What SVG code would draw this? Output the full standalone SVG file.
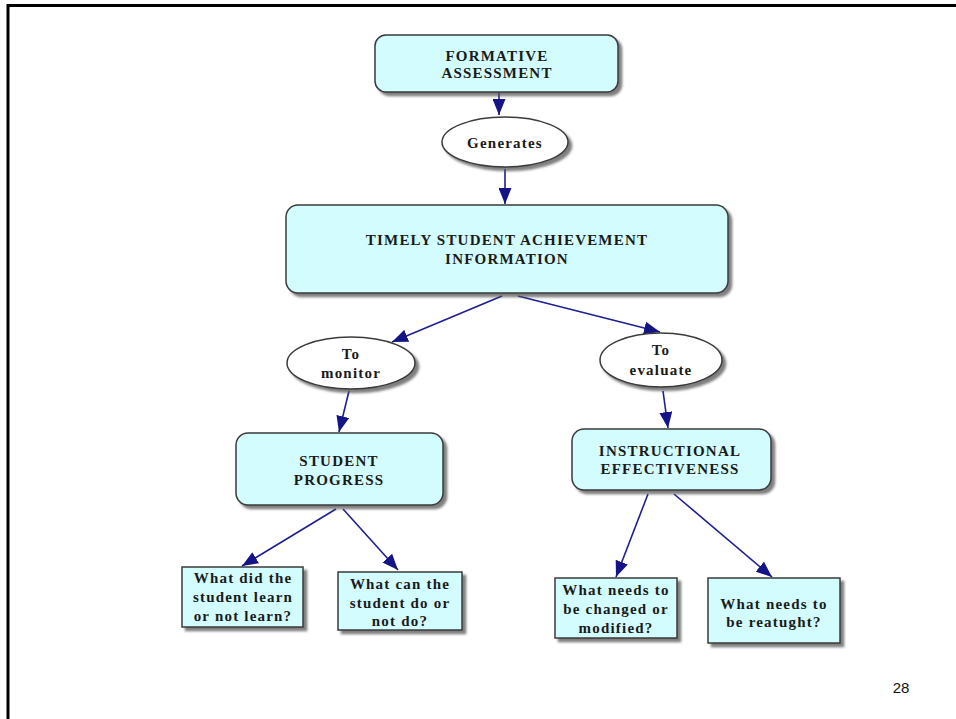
<svg xmlns="http://www.w3.org/2000/svg" width="956" height="719" viewBox="0 0 956 719">
<style>
.box{fill:#d2fcfd;stroke:#3a3a3a;stroke-width:1.5;filter:url(#sh)}
.ell{fill:#ffffff;stroke:#3a3a3a;stroke-width:1.5;filter:url(#sh)}
.t{font-family:"Liberation Serif","Times New Roman",serif;font-weight:bold;font-size:15px;fill:#1a1a1a;text-anchor:middle;letter-spacing:1.2px}
.q{font-family:"Liberation Serif","Times New Roman",serif;font-weight:bold;font-size:15px;fill:#1a1a1a;text-anchor:middle;letter-spacing:1.2px}
.c{stroke:#1f1f8f;stroke-width:1.6;fill:none;marker-end:url(#ah)}
</style>
<defs>
<filter id="sh" x="-10%" y="-10%" width="125%" height="130%">
<feDropShadow dx="3.5" dy="3.5" stdDeviation="1.2" flood-color="#555" flood-opacity="0.75"/>
</filter>
<marker id="ah" markerUnits="userSpaceOnUse" markerWidth="16" markerHeight="13" refX="16" refY="6.5" orient="auto">
<path d="M0,0 L16,6.5 L0,13 z" fill="#141488"/>
</marker>
</defs>
<rect width="956" height="719" fill="#ffffff"/>
<g id="frame">
<line x1="7" y1="5.5" x2="956" y2="5.5" stroke="#000" stroke-width="3"/>
<line x1="8" y1="4" x2="8" y2="719" stroke="#000" stroke-width="3"/>
</g>
<g id="connectors">
<line class="c" x1="499" y1="93" x2="499" y2="115"/>
<line class="c" x1="505" y1="169" x2="505" y2="204"/>
<line class="c" x1="502" y1="296" x2="392" y2="342"/>
<line class="c" x1="518" y1="296" x2="660" y2="332"/>
<line class="c" x1="349" y1="391" x2="339" y2="432"/>
<line class="c" x1="663" y1="391" x2="668" y2="428"/>
<line class="c" x1="336" y1="509" x2="242" y2="566"/>
<line class="c" x1="343" y1="509" x2="398" y2="570"/>
<line class="c" x1="648" y1="494" x2="616" y2="577"/>
<line class="c" x1="674" y1="494" x2="772" y2="577"/>
</g>
<g id="formative">
<rect class="box" x="375" y="35" width="243" height="57" rx="11"/>
<text class="t" x="497" y="61">FORMATIVE</text>
<text class="t" x="497" y="78">ASSESSMENT</text>
</g>
<g id="generates">
<ellipse class="ell" cx="505" cy="142" rx="63" ry="25"/>
<text class="t" x="505" y="148">Generates</text>
</g>
<g id="timely">
<rect class="box" x="286" y="205" width="442" height="88" rx="12"/>
<text class="t" x="507" y="245">TIMELY STUDENT ACHIEVEMENT</text>
<text class="t" x="507" y="264">INFORMATION</text>
</g>
<g id="to-monitor">
<ellipse class="ell" cx="351" cy="363" rx="64" ry="26"/>
<text class="t" x="351" y="359">To</text>
<text class="t" x="351" y="378">monitor</text>
</g>
<g id="to-evaluate">
<ellipse class="ell" cx="661" cy="360" rx="61" ry="27"/>
<text class="t" x="661" y="355">To</text>
<text class="t" x="661" y="375">evaluate</text>
</g>
<g id="student-progress">
<rect class="box" x="236" y="433" width="207" height="72" rx="12"/>
<text class="t" x="339" y="466">STUDENT</text>
<text class="t" x="339" y="485">PROGRESS</text>
</g>
<g id="instructional">
<rect class="box" x="572" y="429" width="199" height="61" rx="12"/>
<text class="t" x="670" y="456">INSTRUCTIONAL</text>
<text class="t" x="670" y="474">EFFECTIVENESS</text>
</g>
<g id="q-learn">
<rect class="box" x="182" y="567" width="121" height="60"/>
<text class="q" x="243" y="583">What did the</text>
<text class="q" x="243" y="602">student learn</text>
<text class="q" x="243" y="621">or not learn?</text>
</g>
<g id="q-do">
<rect class="box" x="338" y="572" width="124" height="58"/>
<text class="q" x="400" y="589">What can the</text>
<text class="q" x="400" y="608">student do or</text>
<text class="q" x="400" y="626">not do?</text>
</g>
<g id="q-changed">
<rect class="box" x="555" y="578" width="122" height="60"/>
<text class="q" x="616" y="595">What needs to</text>
<text class="q" x="616" y="614">be changed or</text>
<text class="q" x="616" y="633">modified?</text>
</g>
<g id="q-retaught">
<rect class="box" x="708" y="578" width="132" height="65"/>
<text class="q" x="774" y="609">What needs to</text>
<text class="q" x="774" y="627">be reatught?</text>
</g>
<text x="901" y="693" font-family="'Liberation Sans',Arial,sans-serif" font-size="15" fill="#111" text-anchor="middle">28</text>
</svg>
